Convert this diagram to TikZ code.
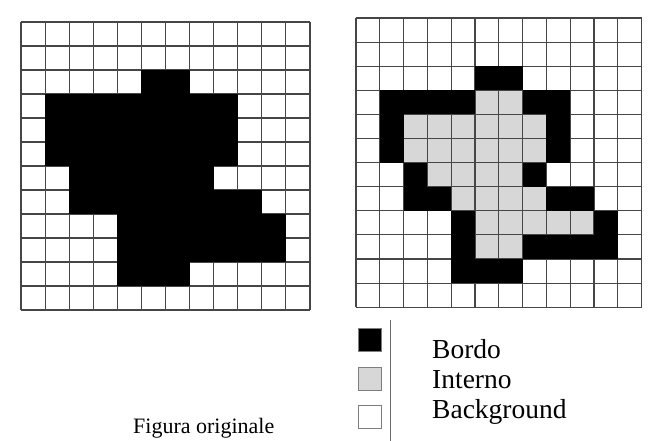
\documentclass[tikz,border=0pt]{standalone}
\usepackage{fontspec}
\setmainfont{Liberation Serif}
\definecolor{gridgray}{RGB}{70,70,70}
\definecolor{intgray}{RGB}{215,215,215}
\usetikzlibrary{positioning}

\begin{document}
\begin{tikzpicture}[
  x=1pt,y=-1pt,
  gridline/.style={gridgray,line width=1.1pt},
  legbox/.style={draw=gridgray!70,line width=0.8pt,minimum size=23pt,inner sep=0pt},
  legtext/.style={anchor=base west,inner sep=0pt,font=\fontsize{27.5}{30}\selectfont}
]
  \useasboundingbox (0,0) rectangle (650,441);
  % Left grid: original figure
  \begin{scope}[shift={(21,22)},x=24.08pt,y=-24pt]
    \foreach \i in {0,...,12} {
      \draw[gridline] (\i,0) -- (\i,12);
      \draw[gridline] (0,\i) -- (12,\i);
    }
    \foreach \r/\a/\b in {2/5/6,3/1/8,4/1/8,5/1/8,6/2/7,7/2/9,8/4/10,9/4/10,10/4/6}
      \fill[black] (\a,\r) rectangle (\b+1,\r+1);
  \end{scope}
  % Right grid: border / interior / background
  \begin{scope}[shift={(356,18)},x=23.8pt,y=-24.1pt]
    \foreach \r/\a/\b in {3/5/6,4/2/7,5/2/7,6/3/6,7/4/7,8/5/9,9/5/6}
      \fill[intgray] (\a,\r) rectangle (\b+1,\r+1);
    \foreach \i in {0,...,12} {
      \draw[gridline] (\i,0) -- (\i,12);
      \draw[gridline] (0,\i) -- (12,\i);
    }
    \foreach \r/\a/\b in {2/5/6,3/1/4,3/7/8,4/1/1,4/8/8,5/1/1,5/8/8,6/2/2,6/7/7,
                          7/2/3,7/8/9,8/4/4,8/10/10,9/4/4,9/7/10,10/4/6}
      \fill[black] (\a,\r) rectangle (\b+1,\r+1);
  \end{scope}
  % Legend
  \node[legbox,fill=black] (kbordo) at (369.5,340) {};
  \node[legbox,fill=intgray] (kinterno) at (369.5,379) {};
  \node[legbox,fill=white] (kback) at (369.5,416.5) {};
  \draw[gridgray!80,line width=0.9pt] (390.7,320) -- (390.7,441);
  \node[legtext] (tbordo) at (432,358) {Bordo};
  \node[legtext] (tinterno) at (432,388) {Interno};
  \node[legtext] (tback) at (432,418) {Background};
  % Caption
  \node[anchor=base west,inner sep=0pt,font=\fontsize{22}{26}\selectfont] (caption) at (133,433) {Figura originale};
\end{tikzpicture}
\end{document}
